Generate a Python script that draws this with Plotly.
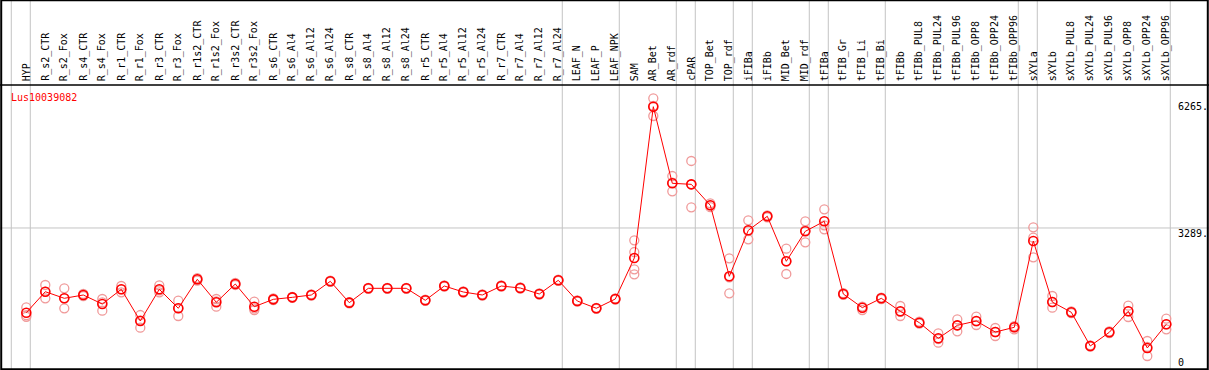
import plotly.graph_objects as go

gene = "Lus10039082"

categories = [
    "HYP", "R_s2_CTR", "R_s2_Fox", "R_s4_CTR", "R_s4_Fox", "R_r1_CTR", "R_r1_Fox",
    "R_r3_CTR", "R_r3_Fox", "R_r1s2_CTR", "R_r1s2_Fox", "R_r3s2_CTR", "R_r3s2_Fox",
    "R_s6_CTR", "R_s6_Al4", "R_s6_Al12", "R_s6_Al24", "R_s8_CTR", "R_s8_Al4",
    "R_s8_Al12", "R_s8_Al24", "R_r5_CTR", "R_r5_Al4", "R_r5_Al12", "R_r5_Al24",
    "R_r7_CTR", "R_r7_Al4", "R_r7_Al12", "R_r7_Al24", "LEAF_N", "LEAF_P", "LEAF_NPK",
    "SAM", "AR_Bet", "AR_rdf", "cPAR", "TOP_Bet", "TOP_rdf", "iFIBa", "iFIBb",
    "MID_Bet", "MID_rdf", "tFIBa", "tFIB_Gr", "tFIB_Li", "tFIB_Bi", "tFIBb",
    "tFIBb_PUL8", "tFIBb_PUL24", "tFIBb_PUL96", "tFIBb_OPP8", "tFIBb_OPP24",
    "tFIBb_OPP96", "sXYLa", "sXYLb", "sXYLb_PUL8", "sXYLb_PUL24", "sXYLb_PUL96",
    "sXYLb_OPP8", "sXYLb_OPP24", "sXYLb_OPP96",
]

means = [
    1210, 1725, 1563, 1644, 1423, 1784, 1006, 1784, 1318, 2029, 1465, 1914, 1357,
    1538, 1587, 1644, 1980, 1456, 1808, 1808, 1808, 1514, 1865, 1718, 1644,
    1865, 1816, 1669, 2005, 1497, 1318, 1546,
    2552, 6265, 4385, 4360, 3845, 2103, 3232, 3576,
    2471, 3207, 3453, 1669, 1333, 1563, 1244,
    965, 581, 900, 1006, 736,
    851, 2969, 1472, 1220, 393, 729,
    1244, 344, 925,
]

replicates = [
    [1340, 1150, 1110], [1890, 1725, 1563], [1808, 1563, 1318], [1670, 1644, 1620],
    [1546, 1463, 1260], [1865, 1780, 1710], [1153, 1023, 842], [1882, 1760, 1710],
    [1504, 1320, 1129], [2060, 2030, 2000], [1546, 1490, 1357], [1940, 1914, 1890],
    [1480, 1315, 1276], [1560, 1538, 1516], [1600, 1587, 1575], [1660, 1644, 1630],
    [1995, 1980, 1965], [1470, 1456, 1440], [1820, 1808, 1795], [1820, 1808, 1795],
    [1820, 1808, 1795], [1530, 1514, 1500], [1880, 1865, 1850], [1730, 1718, 1705],
    [1660, 1644, 1630], [1880, 1865, 1850], [1830, 1816, 1800], [1685, 1669, 1655],
    [2020, 2005, 1990], [1510, 1497, 1485], [1330, 1318, 1305], [1560, 1546, 1530],
    [2987, 2699, 2275, 2152], [6471, 6287, 6037], [4564, 4400, 4188],
    [4933, 4360, 3796], [3894, 3845, 3800], [2545, 2080, 1686], [3477, 3210, 3011],
    [3600, 3576, 3550], [2780, 2470, 2160], [3453, 3230, 2937], [3747, 3355, 3256],
    [1690, 1669, 1650], [1360, 1333, 1276], [1580, 1563, 1545], [1374, 1230, 1129],
    [990, 965, 940], [704, 565, 474], [1047, 900, 753], [1112, 998, 908],
    [834, 736, 638], [880, 851, 800], [3305, 3050, 2569], [1620, 1472, 1333],
    [1240, 1220, 1200], [410, 393, 375], [750, 729, 710], [1382, 1244, 1104],
    [515, 370, 147], [1063, 925, 802],
]

# group separators: drawn just after these category indices
separator_after = [-1, 0, 28, 31, 34, 35, 37, 38, 41, 42, 45, 52, 53, 60]

y_labels = ["6265.", "3289.", "0"]
y_label_values = [6265, 3289, 0]
grid_value = 3289

W, H = 1209, 370
x_of_px = lambda px: (px - 26.3) / 19.0
header_px = 85
plot_frac = (H - header_px) / H
v_of_px = lambda py: (362 - py) / 0.04075

idx = list(range(len(categories)))

rx, ry = [], []
for i, reps in enumerate(replicates):
    for r in reps:
        rx.append(i)
        ry.append(r)

fig = go.Figure()
fig.add_trace(go.Scatter(
    x=rx, y=ry, mode="markers",
    marker=dict(symbol="circle-open", size=9, color="#f09a9a", line=dict(width=1.3, color="#f09a9a")),
    hoverinfo="skip", showlegend=False,
))
fig.add_trace(go.Scatter(
    x=idx, y=means, mode="lines+markers",
    line=dict(color="#ff0000", width=1),
    marker=dict(symbol="circle-open", size=9, color="#ff0000", line=dict(width=1.6, color="#ff0000")),
    showlegend=False,
))

shapes = []
for s in separator_after:
    xs = s + 0.21
    shapes.append(dict(type="line", xref="x", yref="paper", x0=xs, x1=xs, y0=0, y1=1,
                       line=dict(color="#c4c4c4", width=1), layer="below"))
shapes.append(dict(type="line", xref="paper", yref="y", x0=0, x1=1, y0=grid_value, y1=grid_value,
                   line=dict(color="#c4c4c4", width=1), layer="below"))
shapes.append(dict(type="line", xref="paper", yref="paper", x0=0, x1=1, y0=plot_frac, y1=plot_frac,
                   line=dict(color="black", width=1.5)))
shapes.append(dict(type="rect", xref="paper", yref="paper", x0=0.001, x1=0.999, y0=0.002, y1=0.999,
                   line=dict(color="black", width=2)))

annotations = []
for i, c in enumerate(categories):
    annotations.append(dict(
        x=i, xref="x", y=(H - 83) / H, yref="paper", text=c, textangle=-90,
        showarrow=False, xanchor="center", yanchor="bottom",
        font=dict(family="DejaVu Sans Mono", size=10, color="black"),
    ))
annotations.append(dict(
    x=9 / W, xref="paper", y=(H - 98) / H, yref="paper", text=gene, showarrow=False,
    xanchor="left", yanchor="middle", font=dict(family="DejaVu Sans Mono", size=10, color="#ff0000"),
))
label_offsets = [0, -135, 0]
for t, v, off in zip(y_labels, y_label_values, label_offsets):
    annotations.append(dict(
        x=1176 / W, xref="paper", y=v + off, yref="y", text=t, showarrow=False,
        xanchor="left", yanchor="middle", font=dict(family="DejaVu Sans Mono", size=10, color="black"),
    ))

fig.update_layout(
    width=W, height=H, margin=dict(l=0, r=0, t=0, b=0),
    paper_bgcolor="white", plot_bgcolor="white",
    xaxis=dict(range=[x_of_px(0), x_of_px(W)], visible=False, showgrid=False, zeroline=False),
    yaxis=dict(range=[v_of_px(H), v_of_px(header_px)], domain=[0, plot_frac], visible=False,
               showgrid=False, zeroline=False),
    shapes=shapes, annotations=annotations,
)

fig.write_html("out.html", config={"displayModeBar": False},
               post_script="document.body.style.margin='0px';document.body.style.overflow='hidden';")
